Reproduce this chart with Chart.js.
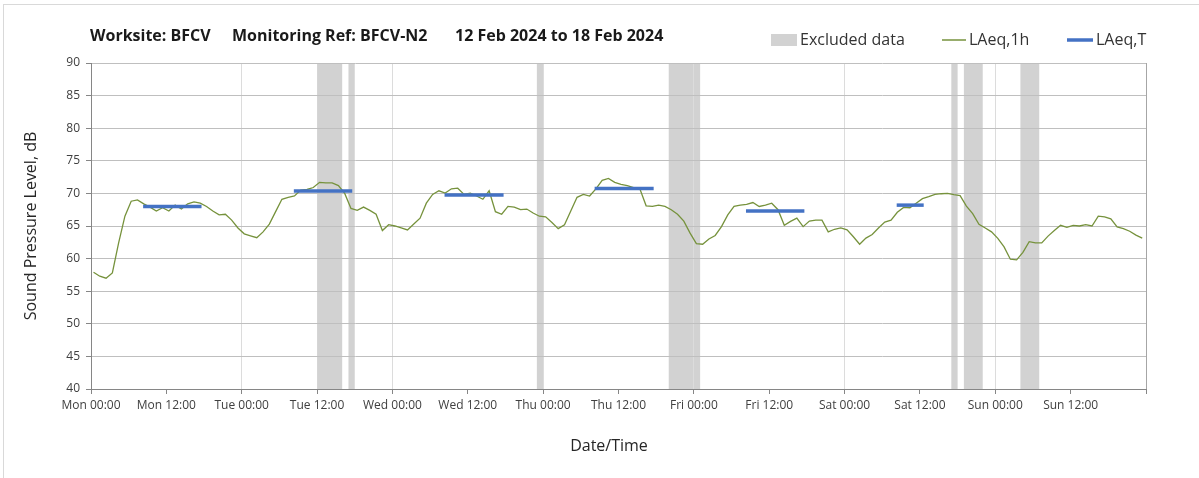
<!DOCTYPE html>
<html><head><meta charset="utf-8">
<script src="https://cdn.jsdelivr.net/npm/chart.js@4.4.1/dist/chart.umd.min.js"></script>
<style>html,body{margin:0;padding:0;background:#fff;}canvas{display:block;}</style>
</head><body>
<canvas id="c" width="1199" height="478"></canvas>
<script>
// ---- data ----
const tickLabels = ['Mon 00:00','Mon 12:00','Tue 00:00','Tue 12:00','Wed 00:00','Wed 12:00',
  'Thu 00:00','Thu 12:00','Fri 00:00','Fri 12:00','Sat 00:00','Sat 12:00','Sun 00:00','Sun 12:00',''];
const laeq1h = [
  57.9,57.3,57.0,57.8,62.4,66.5,68.8,69.0,68.4,67.9,67.3,67.8,67.3,68.2,67.6,68.4,68.7,68.5,68.0,67.3,66.7,66.8,65.9,64.7,
  63.8,63.5,63.2,64.1,65.3,67.2,69.1,69.4,69.6,70.5,70.6,70.9,71.7,71.6,71.6,71.2,70.0,67.7,67.4,67.9,67.4,66.8,64.3,65.2,
  65.0,64.7,64.4,65.3,66.2,68.5,69.85,70.4,70.05,70.7,70.8,69.85,70.05,69.6,69.1,70.4,67.2,66.8,68.0,67.9,67.5,67.6,67.0,66.5,
  66.4,65.55,64.6,65.2,67.3,69.4,69.85,69.6,70.7,72.0,72.3,71.7,71.4,71.2,70.9,70.7,68.1,68.0,68.2,68.0,67.5,66.8,65.75,63.9,
  62.3,62.2,63.0,63.55,64.9,66.7,68.0,68.2,68.3,68.6,68.0,68.2,68.5,67.5,65.1,65.7,66.2,64.9,65.75,65.9,65.9,64.1,64.5,64.7,
  64.4,63.35,62.2,63.15,63.7,64.7,65.6,65.9,67.1,67.85,67.8,68.5,69.2,69.5,69.85,69.95,70.0,69.8,69.65,68.05,66.9,65.25,64.7,64.1,
  63.1,61.8,59.9,59.8,60.95,62.6,62.4,62.4,63.45,64.3,65.1,64.8,65.1,65.0,65.2,65.0,66.5,66.4,66.1,64.85,64.6,64.2,63.6,63.15
];
const laeqTStart = [8.3, 32.3, 56.3, 80.2, 104.3, 128.3];
const laeqTEnd   = [17.6, 41.6, 65.7, 89.6, 113.6, 132.6];
const laeqTValue = [68.0, 70.35, 69.75, 70.75, 67.3, 68.2];
const excludedStart = [36, 41, 71, 92, 137, 139, 148];
const excludedEnd   = [40, 42, 72, 97, 138, 142, 151];

const GREEN = '#76923C', BLUE = '#4472C4', BAND = '#d2d2d2';
const FONT = "'Open Sans', sans-serif";

const lineData = laeq1h.map((v, i) => ({x: i + 0.4, y: v}));
const datasets = [{
  label: 'LAeq,1h', data: lineData, borderColor: GREEN, borderWidth: 1.3,
  pointRadius: 0, tension: 0, order: 2
}];
laeqTValue.forEach((v, i) => {
  datasets.push({
    label: 'LAeq,T', data: [{x: laeqTStart[i], y: v}, {x: laeqTEnd[i], y: v}],
    borderColor: BLUE, borderWidth: 3.5, borderCapStyle: 'butt', pointRadius: 0, order: 1
  });
});

const decor = {
  id: 'decor',
  beforeDraw(chart) {
    const {ctx, chartArea: a, scales: {x}} = chart;
    ctx.save();
    ctx.fillStyle = '#fff';
    ctx.fillRect(0, 0, chart.width, chart.height);
    ctx.strokeStyle = '#d9d9d9'; ctx.lineWidth = 1;
    ctx.strokeRect(3.5, 4.5, 1400, 800);
    ctx.fillStyle = BAND;
    excludedStart.forEach((s, i) => {
      const x0 = x.getPixelForValue(s), x1 = x.getPixelForValue(excludedEnd[i]);
      ctx.fillRect(x0, a.top, x1 - x0, a.bottom - a.top);
    });
    ctx.restore();
  },
  afterDraw(chart) {
    const ctx = chart.ctx;
    ctx.save();
    ctx.textBaseline = 'middle'; ctx.textAlign = 'left';
    ctx.fillStyle = '#1a1a1a';
    ctx.font = "bold 16px " + FONT;
    ctx.fillText('Worksite: BFCV', 90, 36);
    ctx.fillText('Monitoring Ref: BFCV-N2', 232, 36);
    ctx.fillText('12 Feb 2024 to 18 Feb 2024', 455, 36);
    // legend
    ctx.font = "16px " + FONT;
    ctx.fillStyle = BAND; ctx.fillRect(771, 34, 26, 12);
    ctx.fillStyle = '#333'; ctx.fillText('Excluded data', 800, 40);
    ctx.strokeStyle = GREEN; ctx.lineWidth = 1.5;
    ctx.beginPath(); ctx.moveTo(942, 40); ctx.lineTo(966, 40); ctx.stroke();
    ctx.fillText('LAeq,1h', 969, 40);
    ctx.strokeStyle = BLUE; ctx.lineWidth = 3.5;
    ctx.beginPath(); ctx.moveTo(1067, 40); ctx.lineTo(1093, 40); ctx.stroke();
    ctx.fillText('LAeq,T', 1096, 40);
    // x axis title
    ctx.textAlign = 'center';
    ctx.fillStyle = '#262626';
    ctx.fillText('Date/Time', 609, 446);
    ctx.restore();
  }
};

new Chart(document.getElementById('c'), {
  type: 'line',
  data: {datasets},
  options: {
    responsive: false, animation: false, devicePixelRatio: 1,
    layout: {padding: {left: 0, right: 53, top: 63, bottom: 0}},
    plugins: {legend: {display: false}, tooltip: {enabled: false}},
    scales: {
      x: {
        type: 'linear', min: 0, max: 168,
        afterFit(s) { s.height = 89; },
        ticks: {stepSize: 12, autoSkip: false, maxRotation: 0, padding: 4,
          color: '#404040', font: {family: FONT, size: 12},
          callback: (v, i) => tickLabels[i] ?? ''},
        grid: {
          drawTicks: true, tickLength: 5,
          color: c => (c.tick && c.tick.value % 24 === 0) ? (c.tick.value === 168 ? '#a6a6a6' : '#dcdcdc') : 'rgba(0,0,0,0)',
          tickColor: '#868686'
        },
        border: {display: true, color: '#868686'},
        title: {display: false}
      },
      y: {
        min: 40, max: 90,
        afterFit(s) { s.width = 91; },
        ticks: {stepSize: 5, padding: 6, color: '#404040', font: {family: FONT, size: 12}},
        grid: {color: '#bfbfbf', tickLength: 5, tickColor: '#868686'},
        border: {display: true, color: '#868686'},
        title: {display: true, text: 'Sound Pressure Level, dB', color: '#262626',
          font: {family: FONT, size: 16}, padding: {top: 22, bottom: 0}}
      }
    }
  },
  plugins: [decor]
});
</script>
</body></html>
